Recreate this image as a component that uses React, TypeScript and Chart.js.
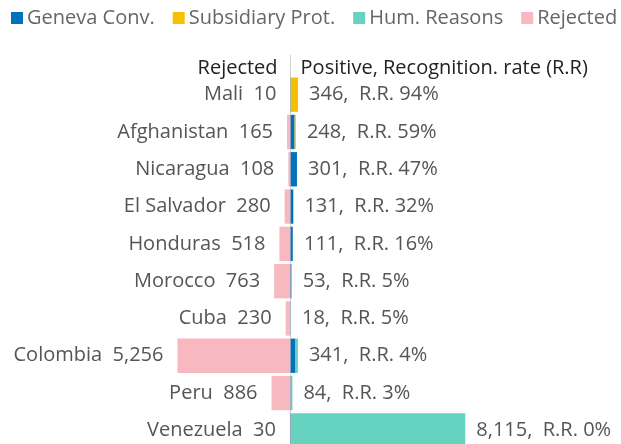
import React, { useEffect, useRef } from "react";
import { Chart, registerables } from "chart.js";

Chart.register(...registerables);

const countries = ["Mali", "Afghanistan", "Nicaragua", "El Salvador", "Honduras", "Morocco", "Cuba", "Colombia", "Peru", "Venezuela"];
const rejected = [10, 165, 108, 280, 518, 763, 230, 5256, 886, 30];
const positive = [346, 248, 301, 131, 111, 53, 18, 341, 84, 8115];
const recognitionRate = [94, 59, 47, 32, 16, 5, 5, 4, 3, 0];
const genevaConv = [10, 175, 295, 125, 100, 30, 6, 210, 10, 15];
const subsidiaryProt = [336, 65, 0, 0, 0, 0, 0, 0, 0, 0];
const humReasons = [0, 8, 6, 6, 11, 23, 12, 131, 74, 8100];

const seriesNames = ["Geneva Conv.", "Subsidiary Prot.", "Hum. Reasons", "Rejected"];
const seriesColors = ["#0072BC", "#F5C000", "#66D2C0", "#F7B8C0"];

const FONT = "'Open Sans', sans-serif";

const overlayPlugin = {
  id: "overlay",
  beforeDatasetsDraw(chart: any) {
    const ctx = chart.ctx;
    const x0 = Math.round(chart.scales.x.getPixelForValue(0)) - 0.5;
    ctx.save();
    ctx.strokeStyle = "#d0d0d0";
    ctx.lineWidth = 1;
    ctx.beginPath();
    ctx.moveTo(x0, 55);
    ctx.lineTo(x0, chart.height);
    ctx.stroke();
    ctx.restore();
  },
  afterDatasetsDraw(chart: any) {
    const ctx = chart.ctx;
    const xs = chart.scales.x;
    const ys = chart.scales.y;
    const zero = xs.getPixelForValue(0);
    ctx.save();
    // legend
    ctx.font = `20px ${FONT}`;
    ctx.textBaseline = "middle";
    ctx.textAlign = "left";
    let lx = 11;
    const ly = 18;
    seriesNames.forEach((name, i) => {
      ctx.fillStyle = seriesColors[i];
      ctx.fillRect(lx, ly - 6, 12, 12);
      lx += 16;
      ctx.fillStyle = "#666666";
      ctx.fillText(name, lx, ly);
      lx += ctx.measureText(name).width + 18;
    });
    // headers
    ctx.fillStyle = "#222222";
    ctx.textAlign = "right";
    ctx.fillText("Rejected", zero - 13, 68);
    ctx.textAlign = "left";
    ctx.fillText("Positive, Recognition. rate (R.R)", zero + 10, 68);
    // row labels
    ctx.fillStyle = "#555555";
    countries.forEach((c, i) => {
      const y = ys.getPixelForValue(i);
      const left = xs.getPixelForValue(-rejected[i]);
      const right = xs.getPixelForValue(positive[i]);
      ctx.textAlign = "right";
      ctx.fillText(`${c}  ${rejected[i].toLocaleString("en-US")}`, left - 14, y);
      ctx.textAlign = "left";
      ctx.fillText(`${positive[i].toLocaleString("en-US")},  R.R. ${recognitionRate[i]}%`, right + 11, y);
    });
    ctx.restore();
  },
};

export default function App() {
  const ref = useRef<HTMLCanvasElement>(null);
  useEffect(() => {
    const canvas = ref.current;
    if (!canvas) return;
    const mk = (data: number[], i: number) => ({
      label: seriesNames[i],
      data,
      backgroundColor: seriesColors[i],
      borderWidth: 0,
      barPercentage: 0.92,
      categoryPercentage: 1,
    });
    const chart = new Chart(canvas, {
      type: "bar",
      data: {
        labels: countries,
        datasets: [
          mk(genevaConv, 0),
          mk(subsidiaryProt, 1),
          mk(humReasons, 2),
          mk(rejected.map((v) => -v), 3),
        ],
      },
      options: {
        indexAxis: "y",
        responsive: false,
        animation: false,
        layout: { padding: { top: 76, bottom: 3, left: 0, right: 0 } },
        plugins: { legend: { display: false }, tooltip: { enabled: false } },
        scales: {
          x: { stacked: true, display: false, min: -13500, max: 15350 },
          y: { stacked: true, display: false },
        },
      },
      plugins: [overlayPlugin],
    });
    return () => chart.destroy();
  }, []);
  return (
    <div style={{ position: "fixed", top: 0, left: 0, width: 621, height: 444, overflow: "hidden", background: "#fff" }}>
      <canvas ref={ref} width={621} height={452} style={{ width: 621, height: 452, display: "block" }} />
    </div>
  );
}
